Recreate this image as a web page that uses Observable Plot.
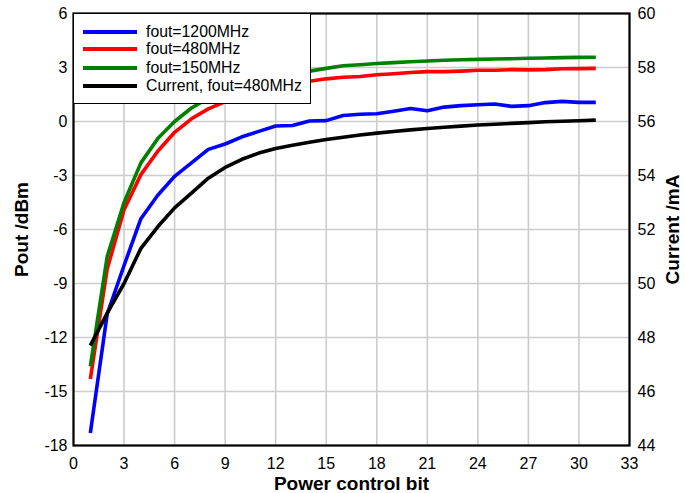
<!DOCTYPE html>
<html>
<head>
<meta charset="utf-8">
<script src="https://cdn.jsdelivr.net/npm/d3@7"></script>
<script src="https://cdn.jsdelivr.net/npm/@observablehq/plot@0.6"></script>
<style>
  html, body { margin: 0; padding: 0; background: #fff; }
  #wrap { position: relative; width: 685px; height: 493px; font-family: "Liberation Sans", Arial, Helvetica, sans-serif; }
  #wrap svg { font-family: "Liberation Sans", Arial, Helvetica, sans-serif; }
  #wrap svg [aria-label$="axis label"] text { font-weight: bold; font-size: 19px; fill: #000; }
  #wrap svg [aria-label$="tick label"] text { font-size: 16px; fill: #000; }
  #legend { position: absolute; left: 73px; top: 13px; width: 236px; height: 89px; border: 1.5px solid #000; background: #fff; }
  #legend .row { position: absolute; left: 0; height: 18px; display: flex; align-items: center; font-size: 15.8px; color: #000; white-space: nowrap; }
  #legend .sw { width: 54px; height: 4px; margin-left: 9px; margin-right: 9px; }
</style>
</head>
<body>
<div id="wrap"></div>
<script>
const bits = [1,2,3,4,5,6,7,8,9,10,11,12,13,14,15,16,17,18,19,20,21,22,23,24,25,26,27,28,29,30,31];
const pout1200 = [-17.3,-10.7,-8.0,-5.4,-4.1,-3.05,-2.3,-1.55,-1.25,-0.85,-0.55,-0.25,-0.22,0.03,0.05,0.33,0.4,0.43,0.57,0.72,0.6,0.8,0.88,0.93,0.97,0.84,0.88,1.05,1.12,1.06,1.06];
const pout480 = [-14.3,-8.2,-4.9,-2.95,-1.65,-0.6,0.15,0.7,1.1,1.45,1.7,1.9,2.1,2.24,2.37,2.46,2.5,2.6,2.65,2.72,2.77,2.77,2.8,2.85,2.85,2.88,2.87,2.88,2.93,2.94,2.95];
const pout150 = [-13.6,-7.5,-4.5,-2.3,-0.95,0.0,0.75,1.3,1.7,2.0,2.3,2.5,2.65,2.8,2.95,3.1,3.15,3.22,3.27,3.32,3.36,3.4,3.43,3.45,3.47,3.49,3.51,3.53,3.55,3.56,3.57];
const current480 = [47.7,48.9,50.0,51.3,52.1,52.8,53.35,53.9,54.3,54.6,54.83,55.0,55.12,55.23,55.33,55.42,55.5,55.57,55.63,55.69,55.74,55.79,55.83,55.87,55.9,55.93,55.96,55.99,56.01,56.03,56.05];

const seriesNames = ["fout=1200MHz", "fout=480MHz", "fout=150MHz", "Current, fout=480MHz"];
const seriesColors = ["#0000ff", "#ff0000", "#008000", "#000000"];

const xTicks = [0,3,6,9,12,15,18,21,24,27,30,33];
const leftTicks = [-18,-15,-12,-9,-6,-3,0,3,6];
const rightTicks = [44,46,48,50,52,54,56,58,60];

// map current (mA) onto the left (dBm) scale: 44..60 mA  <->  -18..6 dBm
const curToDbm = c => -18 + (c - 44) * 1.5;
const dbmToCur = v => 44 + (v + 18) / 1.5;

const rows = [];
bits.forEach((b, i) => {
  rows.push({bit: b, y: pout1200[i], s: seriesNames[0]});
  rows.push({bit: b, y: pout480[i], s: seriesNames[1]});
  rows.push({bit: b, y: pout150[i], s: seriesNames[2]});
  rows.push({bit: b, y: curToDbm(current480[i]), s: seriesNames[3]});
});

const chart = Plot.plot({
  width: 685,
  height: 493,
  marginLeft: 73,
  marginRight: 56,
  marginTop: 13,
  marginBottom: 48,
  x: {domain: [0, 33]},
  y: {domain: [-18, 6]},
  color: {domain: seriesNames, range: seriesColors},
  marks: [
    Plot.gridX(xTicks, {stroke: "#cccccc", strokeOpacity: 1, strokeWidth: 1.6}),
    Plot.gridY(leftTicks, {stroke: "#cccccc", strokeOpacity: 1, strokeWidth: 1.6}),
    ...seriesNames.map(name => Plot.line(rows.filter(d => d.s === name), {
      x: "bit", y: "y", stroke: "s", strokeWidth: 3.6, strokeLinejoin: "round", strokeLinecap: "butt"
    })),
    Plot.frame({stroke: "#000", strokeWidth: 2.2}),
    Plot.axisX(xTicks, {tickSize: 0, tickPadding: 12, label: "Power control bit", labelAnchor: "center", labelArrow: "none", labelOffset: 44}),
    Plot.axisY(leftTicks, {anchor: "left", tickSize: 0, tickPadding: 6, label: "Pout /dBm", labelAnchor: "center", labelArrow: "none", labelOffset: 59}),
    Plot.axisY(rightTicks.map(curToDbm), {anchor: "right", tickSize: 0, tickPadding: 8, tickFormat: d => String(Math.round(dbmToCur(d))), label: "Current /mA", labelAnchor: "center", labelArrow: "none", labelOffset: 49})
  ]
});

const wrap = document.getElementById("wrap");
wrap.appendChild(chart);

// plain hyphen minus signs on left tick labels, as in the reference
chart.querySelectorAll('[aria-label="y-axis tick label"] text').forEach(t => {
  t.textContent = t.textContent.replace("\u2212", "-");
});

// legend (HTML overlay)
const legend = document.createElement("div");
legend.id = "legend";
const rowTops = [9, 26, 45, 63];
seriesNames.forEach((name, i) => {
  const r = document.createElement("div");
  r.className = "row";
  r.style.top = rowTops[i] + "px";
  const sw = document.createElement("div");
  sw.className = "sw";
  sw.style.background = seriesColors[i];
  const tx = document.createElement("span");
  tx.textContent = name;
  r.appendChild(sw);
  r.appendChild(tx);
  legend.appendChild(r);
});
wrap.appendChild(legend);
</script>
</body>
</html>
